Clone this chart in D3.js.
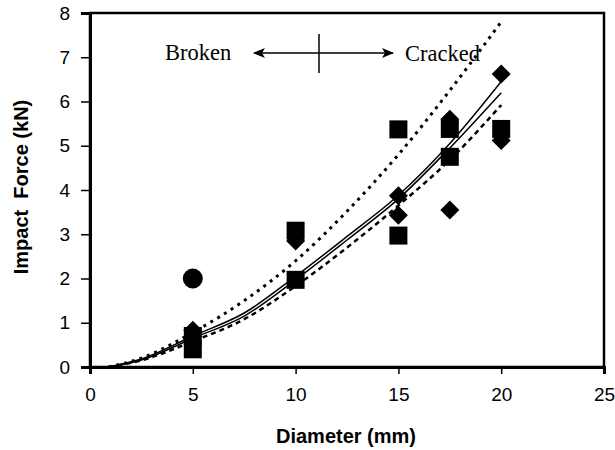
<!DOCTYPE html>
<html>
<head>
<meta charset="utf-8">
<script src="https://cdn.jsdelivr.net/npm/d3@7"></script>
<style>
  html, body { margin: 0; padding: 0; background: #fff; overflow: hidden; }
  svg { display: block; }
</style>
</head>
<body>
<div id="chart"></div>
<script>
// measured points
var squares = [[5, 0.4], [5, 0.7], [10, 3.08], [10, 1.97], [15, 5.37], [15, 2.97],
               [17.5, 5.38], [17.5, 4.75], [20, 5.38]];
var diamonds = [[5, 0.83], [10, 2.85], [15, 3.87], [15, 3.43], [17.5, 5.6],
                [17.5, 3.55], [20, 6.62], [20, 5.12]];
var circles = [[5, 2.0]];

var curveD = [0.9, 2.5, 5, 7.5, 10, 12.5, 15, 17.5, 20];
var upperDotted = [0, 0.2, 0.78, 1.5, 2.4, 3.52, 4.8, 6.25, 7.8];
var solidA = [0, 0.18, 0.7, 1.22, 2.05, 2.95, 3.88, 5.05, 6.45];
var solidB = [0, 0.16, 0.65, 1.15, 1.97, 2.87, 3.8, 4.95, 6.2];
var lowerDashed = [0, 0.15, 0.58, 1.08, 1.83, 2.7, 3.65, 4.68, 5.92];

var xTicks = [0, 5, 10, 15, 20, 25];
var yTicks = [0, 1, 2, 3, 4, 5, 6, 7, 8];

var sans = '"Liberation Sans", Arial, sans-serif',
    serif = '"Liberation Serif", "Times New Roman", serif';

var width = 615,
    height = 450,
    margin = {top: 13, right: 11, bottom: 83, left: 90},
    innerWidth = width - margin.left - margin.right,
    innerHeight = height - margin.top - margin.bottom;

var xScale = d3.scaleLinear().domain([0, 25]).range([0, innerWidth]);
var yScale = d3.scaleLinear().domain([0, 8]).range([innerHeight, 0]);

var svg = d3.select('#chart')
            .append('svg')
            .attr('width', width)
            .attr('height', height);

var g = svg.append('g')
           .attr('transform', 'translate(' + margin.left + ',' + margin.top + ')');

// frame
g.append('rect')
 .attr('width', innerWidth)
 .attr('height', innerHeight)
 .attr('fill', 'none')
 .attr('stroke', '#000')
 .attr('stroke-width', 2.5);

var xAxis = d3.axisBottom(xScale).tickValues(xTicks).tickSize(7).tickPadding(14);
var yAxis = d3.axisLeft(yScale).tickValues(yTicks).tickSize(9).tickPadding(11);

function styleAxis(a) {
  a.attr('font-family', sans).attr('font-size', 19);
  a.select('.domain').attr('stroke-width', 3);
  a.selectAll('.tick line').attr('stroke-width', 1.5);
  a.selectAll('.tick text').attr('fill', '#000');
}

g.append('g')
 .attr('class', 'x axis')
 .attr('transform', 'translate(0,' + innerHeight + ')')
 .call(xAxis)
 .call(styleAxis);

g.append('g')
 .attr('class', 'y axis')
 .call(yAxis)
 .call(styleAxis);

// curves
var line = d3.line()
             .x(function (d) { return xScale(d[0]); })
             .y(function (d) { return yScale(d[1]); })
             .curve(d3.curveMonotoneX);

var curves = [
  {vals: upperDotted, dash: '3,5', width: 3},
  {vals: lowerDashed, dash: '5,4', width: 2.5},
  {vals: solidA, dash: null, width: 1.5},
  {vals: solidB, dash: null, width: 1.5}
];

g.selectAll('path.curve')
 .data(curves)
 .enter()
 .append('path')
 .attr('class', 'curve')
 .attr('d', function (c) { return line(curveD.map(function (x, i) { return [x, c.vals[i]]; })); })
 .attr('fill', 'none')
 .attr('stroke', '#000')
 .attr('stroke-width', function (c) { return c.width; })
 .attr('stroke-dasharray', function (c) { return c.dash; });

// markers
g.selectAll('rect.sq')
 .data(squares)
 .enter()
 .append('rect')
 .attr('class', 'sq')
 .attr('x', function (d) { return xScale(d[0]) - 9; })
 .attr('y', function (d) { return yScale(d[1]) - 9; })
 .attr('width', 18)
 .attr('height', 18)
 .attr('fill', '#000');

g.selectAll('path.dia')
 .data(diamonds)
 .enter()
 .append('path')
 .attr('class', 'dia')
 .attr('transform', function (d) { return 'translate(' + xScale(d[0]) + ',' + yScale(d[1]) + ')'; })
 .attr('d', 'M0,-9.5L9.5,0L0,9.5L-9.5,0Z')
 .attr('fill', '#000');

g.selectAll('circle.pt')
 .data(circles)
 .enter()
 .append('circle')
 .attr('class', 'pt')
 .attr('cx', function (d) { return xScale(d[0]); })
 .attr('cy', function (d) { return yScale(d[1]); })
 .attr('r', 10)
 .attr('fill', '#000');

// Broken / Cracked annotation
svg.append('text')
   .attr('x', 165).attr('y', 60)
   .attr('font-family', serif).attr('font-size', 22.5)
   .text('Broken');
svg.append('text')
   .attr('x', 405).attr('y', 61)
   .attr('font-family', serif).attr('font-size', 22.5)
   .text('Cracked');

var defs = svg.append('defs');
defs.append('marker')
    .attr('id', 'arrow')
    .attr('viewBox', '0 0 12 10')
    .attr('refX', 11)
    .attr('refY', 5)
    .attr('markerWidth', 12)
    .attr('markerHeight', 10)
    .attr('markerUnits', 'userSpaceOnUse')
    .attr('orient', 'auto-start-reverse')
    .append('path')
    .attr('d', 'M0,0L12,5L0,10L3,5Z')
    .attr('fill', '#000');

svg.append('line')
   .attr('x1', 254).attr('x2', 393)
   .attr('y1', 53).attr('y2', 53)
   .attr('stroke', '#000')
   .attr('stroke-width', 1.5)
   .attr('marker-start', 'url(#arrow)')
   .attr('marker-end', 'url(#arrow)');

svg.append('line')
   .attr('x1', 319).attr('x2', 319)
   .attr('y1', 34).attr('y2', 73)
   .attr('stroke', '#000')
   .attr('stroke-width', 1.5);

// axis titles
svg.append('text')
   .attr('x', 346)
   .attr('y', 443)
   .attr('text-anchor', 'middle')
   .attr('font-family', sans).attr('font-size', 20).attr('font-weight', 'bold')
   .text('Diameter (mm)');

svg.append('text')
   .attr('transform', 'translate(28,187) rotate(-90)')
   .attr('text-anchor', 'middle')
   .attr('font-family', sans).attr('font-size', 20).attr('font-weight', 'bold')
   .style('white-space', 'pre')
   .text('Impact  Force (kN)');
</script>
</body>
</html>
